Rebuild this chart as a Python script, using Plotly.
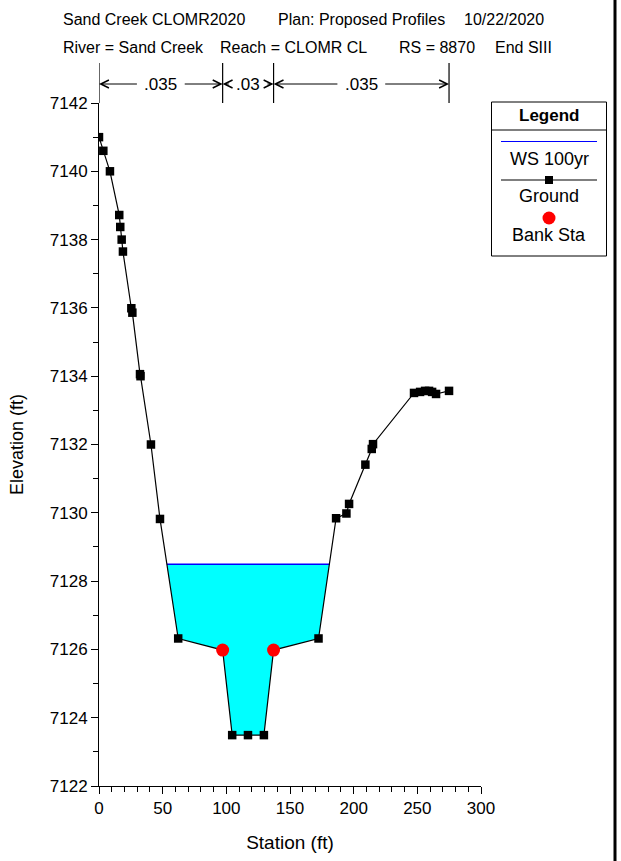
import numpy as np
import plotly.graph_objects as go

# Ground profile (station ft, elevation ft)
ground_sta = [0.0, 3.4, 8.6, 15.9, 16.7, 17.8, 18.8, 25.4, 26.2, 32.2, 32.6, 40.8, 47.9, 62.2,
              97.1, 104.6, 117.0, 129.5, 137.1, 172.4, 186.2, 194.3, 196.4, 209.2, 214.2, 215.2,
              247.4, 252.2, 256.1, 259.2, 261.6, 264.7, 274.9]
ground_elev = [7141.0, 7140.6, 7140.0, 7138.72, 7138.37, 7138.0, 7137.65, 7135.99, 7135.86, 7134.06,
               7134.0, 7132.0, 7129.82, 7126.32, 7125.98, 7123.49, 7123.49, 7123.49, 7125.98, 7126.32,
               7129.84, 7129.98, 7130.26, 7131.41, 7131.87, 7132.01, 7133.51, 7133.54, 7133.57,
               7133.57, 7133.54, 7133.48, 7133.57]

bank_sta = [97.1, 137.1]
bank_elev = [7125.98, 7125.98]

ws_elev = 7128.49  # WS 100yr

# Manning's n regions
n_breaks = [0.0, 97.1, 137.1, 274.9]
n_values = [".035", ".03", ".035"]

header_1 = ["Sand Creek CLOMR2020", "Plan: Proposed Profiles", "10/22/2020"]
header_2 = ["River = Sand Creek", "Reach = CLOMR CL", "RS = 8870", "End SIII"]

FONT = "Liberation Sans, Arial, sans-serif"

# plot area in pixels
L, R, T, B = 99, 481, 103, 786


def px(x):
    return (x - L) / (R - L)


def py(y):
    return (B - y) / (B - T)


# water polygon: ground below the water surface, closed by the WS line
wx, wy = [], []
for i in range(len(ground_sta) - 1):
    x0, y0 = ground_sta[i], ground_elev[i]
    x1, y1 = ground_sta[i + 1], ground_elev[i + 1]
    if y0 <= ws_elev:
        wx.append(x0)
        wy.append(y0)
    if (y0 - ws_elev) * (y1 - ws_elev) < 0:
        wx.append(x0 + (ws_elev - y0) * (x1 - x0) / (y1 - y0))
        wy.append(ws_elev)
ws_x = [wx[0], wx[-1]]

fig = go.Figure()

fig.add_trace(go.Scatter(x=wx + [wx[0]], y=wy + [wy[0]], mode="lines", fill="toself",
                         fillcolor="#00ffff", line=dict(width=0), hoverinfo="skip"))
fig.add_trace(go.Scatter(x=ws_x, y=[ws_elev, ws_elev], mode="lines",
                         line=dict(color="#0000ff", width=1.5), name="WS 100yr"))
fig.add_trace(go.Scatter(x=ground_sta, y=ground_elev, mode="lines+markers",
                         line=dict(color="black", width=1.2),
                         marker=dict(symbol="square", size=8.5, color="black"), name="Ground"))
fig.add_trace(go.Scatter(x=bank_sta, y=bank_elev, mode="markers",
                         marker=dict(symbol="circle", size=13, color="#ff0000"), name="Bank Sta"))

shapes = []
annotations = []


def label(x, y, text, size, xref="paper", xanchor="center"):
    annotations.append(dict(x=x, y=y, xref=xref, yref="paper", text=text, showarrow=False,
                            xanchor=xanchor, yanchor="middle",
                            font=dict(size=size, color="black", family=FONT)))


# Manning's n markers above the plot
ny0, ny1 = py(103), py(63)
yarr = py(84)
for b in n_breaks:
    shapes.append(dict(type="line", xref="x", yref="paper", x0=b, x1=b, y0=ny0, y1=ny1,
                       line=dict(color="black", width=1.2)))
for i, lab in enumerate(n_values):
    a, b = n_breaks[i], n_breaks[i + 1]
    mid = (a + b) / 2
    label(mid, yarr, lab, 17, xref="x")
    half = (len(lab) * 4.6 + 4) / ((R - L) / 300)
    for tip, tail in [(a, mid - half), (b, mid + half)]:
        annotations.append(dict(x=tip, y=yarr, xref="x", yref="paper", axref="x", ayref="pixel",
                                ax=tail, ay=0, text="", showarrow=True, arrowhead=5,
                                arrowsize=1.6, arrowwidth=1, arrowcolor="black"))

# header lines
for txt, x in zip(header_1, [61, 276, 462]):
    label(px(x), py(19), txt, 16, xanchor="left")
for txt, x in zip(header_2, [61, 218, 397, 493]):
    label(px(x), py(47), txt, 16, xanchor="left")

# legend box
lx0, lx1, ly0, ly1 = 491.5, 606.5, 102, 256
lc = (lx0 + lx1) / 2
shapes.append(dict(type="rect", xref="paper", yref="paper", x0=px(lx0), x1=px(lx1),
                   y0=py(ly1), y1=py(ly0), line=dict(color="black", width=1), fillcolor="white"))
shapes.append(dict(type="line", xref="paper", yref="paper", x0=px(lx0), x1=px(lx1),
                   y0=py(130), y1=py(130), line=dict(color="black", width=1)))
shapes.append(dict(type="line", xref="paper", yref="paper", x0=px(501), x1=px(597),
                   y0=py(141.5), y1=py(141.5), line=dict(color="#0000ff", width=1.2)))
shapes.append(dict(type="line", xref="paper", yref="paper", x0=px(501), x1=px(597),
                   y0=py(180), y1=py(180), line=dict(color="black", width=1.2)))
shapes.append(dict(type="rect", xref="paper", yref="paper", x0=px(lc - 4), x1=px(lc + 4),
                   y0=py(184), y1=py(176), line=dict(width=0), fillcolor="black"))
shapes.append(dict(type="circle", xref="paper", yref="paper", x0=px(lc - 6.5), x1=px(lc + 6.5),
                   y0=py(224.5), y1=py(211.5), line=dict(width=0), fillcolor="#ff0000"))
label(px(lc), py(115), "<b>Legend</b>", 17)
for txt, yy in [("WS 100yr", 159), ("Ground", 196), ("Bank Sta", 235)]:
    label(px(lc), py(yy), txt, 18)

# thick right border
shapes.append(dict(type="line", xref="paper", yref="paper", x0=px(615), x1=px(615),
                   y0=py(861), y1=py(0), line=dict(color="black", width=3)))

fig.update_layout(
    width=621, height=861,
    margin=dict(l=L, r=621 - R, t=T, b=861 - B, autoexpand=False),
    paper_bgcolor="white", plot_bgcolor="white",
    showlegend=False,
    font=dict(family=FONT, color="black", size=17),
    shapes=shapes, annotations=annotations,
    xaxis=dict(range=[0, 300], dtick=50, showgrid=False, zeroline=False,
               showline=True, linecolor="black", linewidth=1,
               ticks="outside", ticklen=7, tickcolor="black",
               minor=dict(dtick=10, ticks="outside", ticklen=5, tickcolor="black"),
               tickfont=dict(size=17),
               title=dict(text="Station (ft)", font=dict(size=19), standoff=18)),
    yaxis=dict(range=[7122, 7142], dtick=2, showgrid=False, zeroline=False,
               showline=True, linecolor="black", linewidth=1,
               ticks="outside", ticklen=7, tickcolor="black",
               minor=dict(dtick=1, ticks="outside", ticklen=5, tickcolor="black"),
               tickfont=dict(size=17), tickformat="d",
               title=dict(text="Elevation (ft)", font=dict(size=18), standoff=21)),
)

fig.write_html("out.html", config={"displayModeBar": False},
               post_script="document.body.style.margin='0';")
